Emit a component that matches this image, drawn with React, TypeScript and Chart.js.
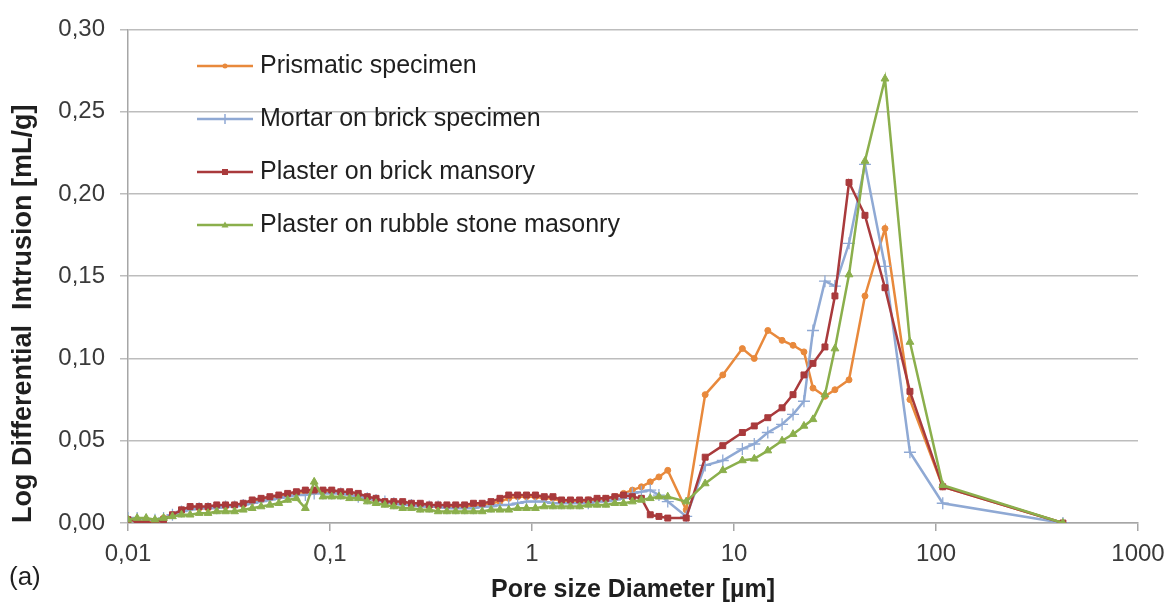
import React, { useEffect, useRef } from "react";
import { Chart, registerables } from "chart.js";

Chart.register(...registerables);

// Pore diameters (µm) — fine-pore region and coarse-pore region
const DIAM_LOW = [
  0.0100, 0.0111, 0.0123, 0.0136, 0.0150, 0.0166, 0.0184, 0.0203, 0.0225, 0.0249,
  0.0275, 0.0304, 0.0337, 0.0372, 0.0412, 0.0456, 0.0504, 0.0558, 0.0617, 0.0682,
  0.0755, 0.0835, 0.0923, 0.102, 0.113, 0.125, 0.138, 0.153, 0.169, 0.187,
  0.207, 0.229, 0.253, 0.280, 0.310, 0.343, 0.379, 0.419, 0.464, 0.513,
  0.567, 0.627, 0.694, 0.767, 0.849, 0.939, 1.04, 1.15, 1.27, 1.40,
  1.55, 1.72, 1.90, 2.10, 2.32, 2.57, 2.84, 3.14, 3.48, 3.85,
  4.25, 4.70, 5.80,
];
const DIAM_HIGH = [7.2, 8.8, 11.0, 12.6, 14.7, 17.3, 19.6, 22.2, 24.6, 28.2, 31.6, 37.1, 44.5, 55.9, 74.3, 108, 425];

const PRISMATIC_LOW = [
  0.002, 0.002, 0.001, 0.001, 0.003, 0.005, 0.007, 0.009, 0.009, 0.009,
  0.010, 0.010, 0.011, 0.011, 0.013, 0.014, 0.015, 0.016, 0.017, 0.018,
  0.019, 0.019, 0.019, 0.019, 0.018, 0.018, 0.017, 0.015, 0.014, 0.013,
  0.012, 0.012, 0.011, 0.011, 0.010, 0.010, 0.010, 0.010, 0.010, 0.011,
  0.011, 0.012, 0.013, 0.015, 0.016, 0.016, 0.016, 0.015, 0.015, 0.013,
  0.013, 0.013, 0.014, 0.014, 0.015, 0.016, 0.018, 0.020, 0.022, 0.025,
  0.028, 0.032, 0.008,
];
const PRISMATIC_HIGH = [0.078, 0.090, 0.106, 0.100, 0.117, 0.111, 0.108, 0.104, 0.082, 0.077, 0.081, 0.087, 0.138, 0.179, 0.075, 0.022, 0.000];

const MORTAR_LOW = [
  0.003, 0.003, 0.002, 0.002, 0.003, 0.005, 0.007, 0.008, 0.009, 0.009,
  0.009, 0.010, 0.010, 0.011, 0.012, 0.013, 0.014, 0.015, 0.016, 0.017,
  0.017, 0.018, 0.018, 0.018, 0.018, 0.017, 0.016, 0.015, 0.014, 0.013,
  0.012, 0.011, 0.011, 0.010, 0.010, 0.010, 0.009, 0.009, 0.009, 0.009,
  0.010, 0.010, 0.011, 0.011, 0.012, 0.013, 0.013, 0.013, 0.012, 0.012,
  0.012, 0.012, 0.012, 0.013, 0.013, 0.014, 0.015, 0.018, 0.019, 0.020,
  0.017, 0.013, 0.004,
];
const MORTAR_HIGH = [0.035, 0.038, 0.045, 0.048, 0.055, 0.060, 0.066, 0.074, 0.117, 0.147, 0.144, 0.170, 0.218, 0.156, 0.043, 0.012, 0.000];

const BRICK_LOW = [
  0.002, 0.001, 0.000, 0.000, 0.002, 0.005, 0.008, 0.010, 0.010, 0.010,
  0.011, 0.011, 0.011, 0.012, 0.014, 0.015, 0.016, 0.017, 0.018, 0.019,
  0.020, 0.020, 0.020, 0.020, 0.019, 0.019, 0.018, 0.016, 0.015, 0.013,
  0.013, 0.013, 0.012, 0.012, 0.011, 0.011, 0.011, 0.011, 0.011, 0.012,
  0.012, 0.013, 0.015, 0.017, 0.017, 0.017, 0.017, 0.016, 0.016, 0.014,
  0.014, 0.014, 0.014, 0.015, 0.015, 0.016, 0.017, 0.016, 0.015, 0.005,
  0.004, 0.003, 0.003,
];
const BRICK_HIGH = [0.040, 0.047, 0.055, 0.059, 0.064, 0.070, 0.078, 0.090, 0.097, 0.107, 0.138, 0.207, 0.187, 0.143, 0.080, 0.022, 0.000];

const RUBBLE_LOW = [
  0.002, 0.003, 0.003, 0.002, 0.003, 0.004, 0.005, 0.005, 0.006, 0.006,
  0.007, 0.007, 0.007, 0.008, 0.009, 0.010, 0.011, 0.012, 0.014, 0.015,
  0.009, 0.025, 0.016, 0.016, 0.016, 0.015, 0.015, 0.013, 0.012, 0.011,
  0.010, 0.009, 0.009, 0.008, 0.008, 0.007, 0.007, 0.007, 0.007, 0.007,
  0.007, 0.008, 0.008, 0.008, 0.009, 0.009, 0.009, 0.010, 0.010, 0.010,
  0.010, 0.010, 0.011, 0.011, 0.011, 0.012, 0.012, 0.013, 0.014, 0.015,
  0.016, 0.016, 0.013,
];
const RUBBLE_HIGH = [0.024, 0.032, 0.038, 0.039, 0.044, 0.050, 0.054, 0.059, 0.063, 0.078, 0.106, 0.151, 0.220, 0.270, 0.110, 0.023, 0.000];

const SERIES_NAMES = [
  "Prismatic specimen",
  "Mortar on brick specimen",
  "Plaster on brick mansory",
  "Plaster on rubble stone masonry",
];
const SERIES_COLORS = ["#E8893C", "#8FA9D4", "#A93A3C", "#8BAF4C"];
const SERIES_MARKERS = ["circle", "cross", "rect", "triangle"];
const SERIES_RADII = [3, 6, 4.2, 4.5];
const SERIES_ORDER = [3, 2, 1, 0];

const X_TICKS = [0.01, 0.1, 1, 10, 100, 1000];
const X_TICK_LABELS = ["0,01", "0,1", "1", "10", "100", "1000"];
const Y_TICKS = [0, 0.05, 0.1, 0.15, 0.2, 0.25, 0.3];
const Y_TICK_LABELS = ["0,00", "0,05", "0,10", "0,15", "0,20", "0,25", "0,30"];

const X_TITLE = "Pore size Diameter [µm]";
const Y_TITLE = "Log Differential  Intrusion [mL/g]";
const PANEL_LABEL = "(a)";

const FONT = '"Liberation Sans", Arial, Helvetica, sans-serif';

function toPoints(xs: number[], ys: number[]) {
  return xs.map((x, i) => ({ x, y: ys[i] }));
}

function drawMarker(ctx: CanvasRenderingContext2D, style: string, x: number, y: number, color: string) {
  ctx.save();
  ctx.fillStyle = color;
  ctx.strokeStyle = color;
  ctx.lineWidth = 1.5;
  ctx.beginPath();
  if (style === "circle") {
    ctx.arc(x, y, 2.5, 0, Math.PI * 2);
    ctx.fill();
  } else if (style === "cross") {
    ctx.moveTo(x, y - 5);
    ctx.lineTo(x, y + 5);
    ctx.stroke();
  } else if (style === "rect") {
    ctx.rect(x - 3, y - 3, 6, 6);
    ctx.fill();
  } else {
    ctx.moveTo(x, y - 3.5);
    ctx.lineTo(x + 3.5, y + 2.5);
    ctx.lineTo(x - 3.5, y + 2.5);
    ctx.closePath();
    ctx.fill();
  }
  ctx.restore();
}

const overlayPlugin = {
  id: "insideLegend",
  afterDraw(chart: any) {
    const ctx: CanvasRenderingContext2D = chart.ctx;
    ctx.save();
    chart.data.datasets.forEach((ds: any, i: number) => {
      const y = 66 + i * 53;
      ctx.strokeStyle = ds.borderColor;
      ctx.lineWidth = 2.5;
      ctx.beginPath();
      ctx.moveTo(197, y);
      ctx.lineTo(253, y);
      ctx.stroke();
      drawMarker(ctx, ds.pointStyle, 225, y, ds.borderColor);
      ctx.fillStyle = "#1f1f1f";
      ctx.font = `25px ${FONT}`;
      ctx.textBaseline = "middle";
      ctx.textAlign = "left";
      ctx.fillText(ds.label, 260, y);
    });
    ctx.fillStyle = "#1f1f1f";
    ctx.font = `26px ${FONT}`;
    ctx.textBaseline = "middle";
    ctx.textAlign = "left";
    ctx.fillText(PANEL_LABEL, 9, 578);
    ctx.restore();
  },
};

export default function App() {
  const canvasRef = useRef<HTMLCanvasElement | null>(null);

  useEffect(() => {
    const canvas = canvasRef.current;
    if (!canvas) return;
    const lows = [PRISMATIC_LOW, MORTAR_LOW, BRICK_LOW, RUBBLE_LOW];
    const highs = [PRISMATIC_HIGH, MORTAR_HIGH, BRICK_HIGH, RUBBLE_HIGH];
    const allX = [...DIAM_LOW, ...DIAM_HIGH];
    const datasets = SERIES_NAMES.map((name, i) => ({
      label: name,
      data: toPoints(allX, [...lows[i], ...highs[i]]),
      borderColor: SERIES_COLORS[i],
      backgroundColor: SERIES_COLORS[i],
      pointBackgroundColor: SERIES_COLORS[i],
      pointBorderColor: SERIES_COLORS[i],
      pointStyle: SERIES_MARKERS[i],
      pointRadius: SERIES_RADII[i],
      pointBorderWidth: SERIES_MARKERS[i] === "cross" ? 1.3 : 1,
      borderWidth: 2.5,
      tension: 0,
      fill: false,
      order: SERIES_ORDER[i],
    }));

    const chart = new Chart(canvas, {
      type: "line",
      data: { datasets },
      plugins: [overlayPlugin],
      options: {
        animation: false,
        responsive: false,
        events: [],
        layout: { padding: { left: 0, top: 23, right: 38, bottom: 0 } },
        plugins: {
          legend: { display: false },
          tooltip: { enabled: false },
        },
        scales: {
          x: {
            type: "logarithmic",
            min: 0.01,
            max: 1000,
            afterBuildTicks: (scale: any) => {
              scale.ticks = X_TICKS.map((v) => ({ value: v, major: true }));
            },
            afterFit: (scale: any) => {
              scale.height = 83;
            },
            ticks: {
              autoSkip: false,
              maxRotation: 0,
              padding: 9,
              color: "#3a3a3a",
              font: { family: FONT, size: 24 },
              callback: (value: any) => {
                const idx = X_TICKS.indexOf(Number(value));
                return idx >= 0 ? X_TICK_LABELS[idx] : "";
              },
            },
            grid: {
              drawOnChartArea: false,
              drawTicks: true,
              tickLength: 8,
              color: "#a6a6a6",
              lineWidth: 1.5,
            },
            border: { display: true, color: "#a6a6a6", width: 1.5 },
            title: {
              display: true,
              text: X_TITLE,
              color: "#1f1f1f",
              font: { family: FONT, size: 25, weight: "bold" },
              padding: { top: 0, bottom: 1 },
            },
          },
          y: {
            type: "linear",
            min: 0,
            max: 0.3,
            afterBuildTicks: (scale: any) => {
              scale.ticks = Y_TICKS.map((v) => ({ value: v }));
            },
            afterFit: (scale: any) => {
              scale.width = 128;
            },
            ticks: {
              padding: 15,
              color: "#3a3a3a",
              font: { family: FONT, size: 24 },
              callback: (value: any) => {
                const idx = Y_TICKS.findIndex((v) => Math.abs(v - Number(value)) < 1e-9);
                return idx >= 0 ? Y_TICK_LABELS[idx] : "";
              },
            },
            grid: {
              color: "#bdbdbd",
              lineWidth: 1.5,
              drawTicks: true,
              tickLength: 8,
            },
            border: { display: true, color: "#a6a6a6", width: 1.5 },
            title: {
              display: true,
              text: Y_TITLE,
              align: "start",
              color: "#1f1f1f",
              font: { family: FONT, size: 27, weight: "bold" },
              padding: { top: 7, bottom: 0 },
            },
          },
        },
      } as any,
    });

    return () => {
      chart.destroy();
    };
  }, []);

  return (
    <div style={{ position: "fixed", left: 0, top: 0, width: 1176, height: 606, background: "#ffffff" }}>
      <canvas ref={canvasRef} width={1176} height={606} style={{ display: "block" }} />
    </div>
  );
}
